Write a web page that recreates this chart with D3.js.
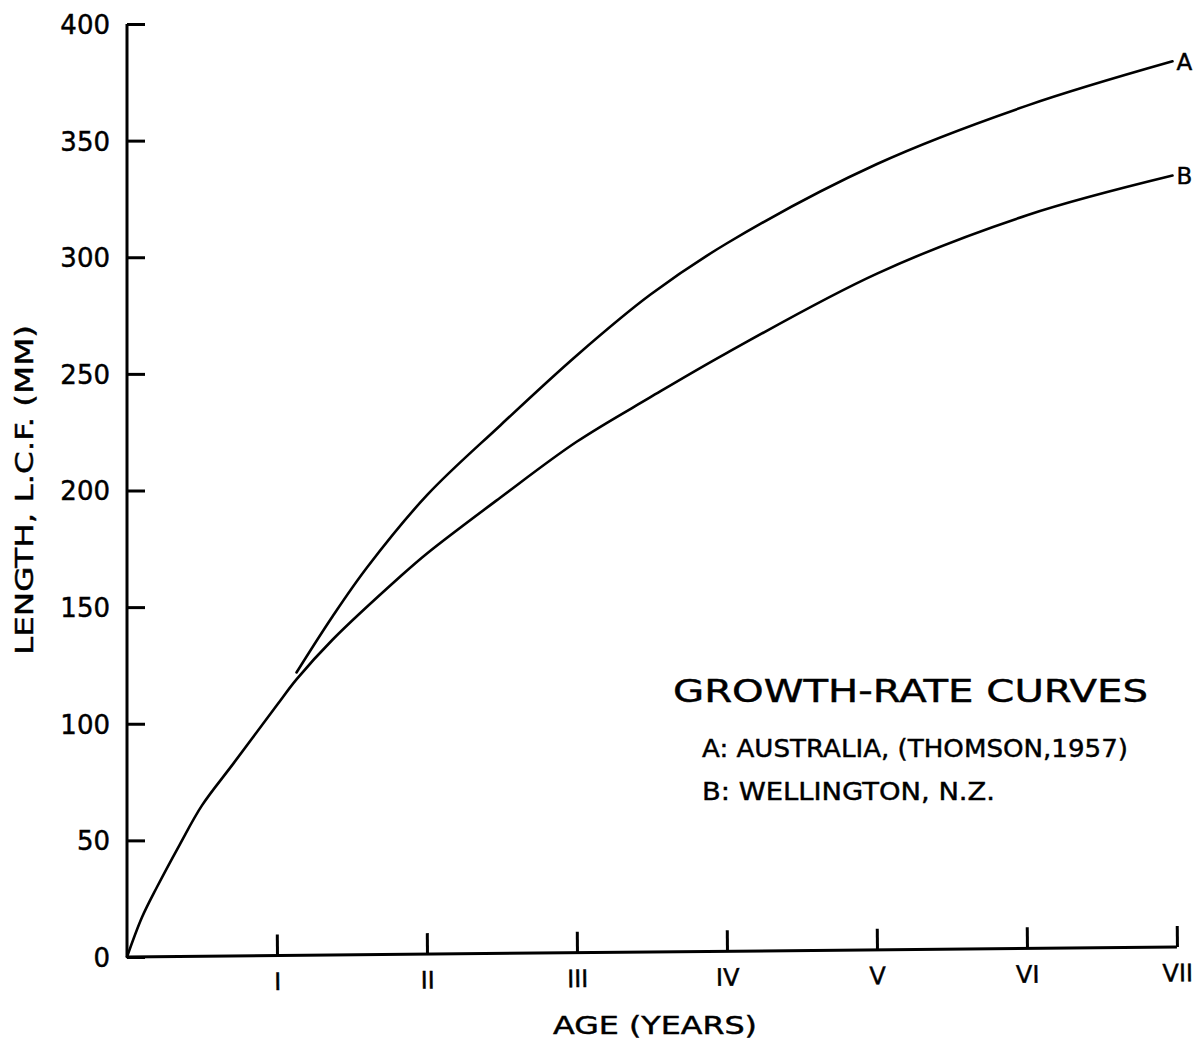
<!DOCTYPE html>
<html>
<head>
<meta charset="utf-8">
<script src="https://cdn.jsdelivr.net/npm/d3@7"></script>
<style>
  html, body { margin: 0; padding: 0; background: #fff; }
  svg { display: block; }
  text { font-family: "DejaVu Sans", "Liberation Sans", sans-serif; fill: #000; stroke: #000; stroke-width: 0.45px; }
</style>
</head>
<body>
<svg id="chart" width="1200" height="1046"></svg>
<script>
// Age in years and length (mm)
const ageA = [1.13, 1.37, 1.6, 2.0, 2.49, 3.0, 3.49, 4.0, 5.0, 6.0, 6.97];
const lenA = [122, 146, 167, 198, 228, 258, 284, 306, 340, 365, 384];

const ageB = [0, 0.1, 0.2, 0.35, 0.5, 0.71, 1.0, 1.13, 1.37, 1.82, 2.0, 2.49, 3.0, 3.49, 4.0, 5.0, 6.0, 6.97];
const lenB = [0, 17, 30, 48, 65, 83, 108, 119, 136, 163, 173, 197, 221, 240, 259, 293, 318, 335];

const yTicks = [0, 50, 100, 150, 200, 250, 300, 350, 400];
const xTicks = [1, 2, 3, 4, 5, 6, 7];
const xTickLabels = ["I", "II", "III", "IV", "V", "VI", "VII"];

const curveNames = ["A", "B"];
const legendTitle = "GROWTH-RATE  CURVES";
const legendLines = ["A: AUSTRALIA,  (THOMSON,1957)", "B: WELLINGTON,  N.Z."];
const xTitle = "AGE   (YEARS)";
const yTitle = "LENGTH,  L.C.F.  (MM)";

const svg = d3.select("#chart");

const x = d3.scaleLinear().domain([0, 7]).range([127, 1177]);
const y = d3.scaleLinear().domain([0, 400]).range([957, 24]);

// Y axis: ticks pointing inward, labels on the left
const yAxis = d3.axisLeft(y).tickValues(yTicks).tickSize(-18).tickPadding(34);
const gy = svg.append("g").attr("transform", `translate(${x(0)},0)`).call(yAxis);
gy.select(".domain").attr("d", `M0,${y(400)}V${y(0)}`).attr("stroke", "#000").attr("stroke-width", 3);
gy.selectAll(".tick line").attr("stroke", "#000").attr("stroke-width", 3);
gy.selectAll(".tick text").attr("font-size", 26).attr("dx", 17).attr("dy", "0.36em")
  .attr("font-family", "DejaVu Sans");

// X axis: inward ticks with Roman numeral labels, drawn slightly skewed as on the sheet
const xAxis = d3.axisBottom(x).tickValues(xTicks)
  .tickFormat((d, i) => xTickLabels[i]).tickSize(-21).tickPadding(32);
const gx = svg.append("g")
  .attr("transform", `translate(0,${y(0)}) rotate(-0.55 ${x(0)} 0)`)
  .call(xAxis);
gx.select(".domain").attr("d", `M${x(0)},0H${x(7)}`).attr("stroke", "#000").attr("stroke-width", 3);
gx.selectAll(".tick line").attr("stroke", "#000").attr("stroke-width", 3);
gx.selectAll(".tick text").attr("font-size", 24).attr("dy", "0.1em")
  .attr("font-family", "DejaVu Sans Condensed, DejaVu Sans");

// Growth curves
const line = d3.line()
  .x(d => x(d[0]))
  .y(d => y(d[1]))
  .curve(d3.curveCatmullRom.alpha(0.5));

const seriesA = ageA.map((a, i) => [a, lenA[i]]);
const seriesB = ageB.map((a, i) => [a, lenB[i]]);

[seriesA, seriesB].forEach((s, i) => {
  svg.append("path")
    .datum(s)
    .attr("d", line)
    .attr("fill", "none")
    .attr("stroke", "#000")
    .attr("stroke-width", 2.6)
    .attr("stroke-linecap", "round");
  const last = s[s.length - 1];
  svg.append("text")
    .attr("x", x(last[0]) + 4)
    .attr("y", y(last[1]))
    .attr("dy", "0.36em")
    .attr("font-size", 23)
    .text(curveNames[i]);
});

// Axis titles
svg.append("text")
  .attr("x", 655).attr("y", 1034)
  .attr("text-anchor", "middle")
  .attr("font-size", 24)
  .attr("textLength", 204).attr("lengthAdjust", "spacingAndGlyphs")
  .text(xTitle);

svg.append("text")
  .attr("transform", `translate(33,490) rotate(-90)`)
  .attr("text-anchor", "middle")
  .attr("font-size", 25)
  .attr("textLength", 330).attr("lengthAdjust", "spacingAndGlyphs")
  .text(yTitle);

// Legend block
svg.append("text")
  .attr("x", 673).attr("y", 702)
  .attr("font-size", 32)
  .attr("textLength", 475).attr("lengthAdjust", "spacingAndGlyphs")
  .text(legendTitle);

const legendWidths = [426, 293];
legendLines.forEach((t, i) => {
  svg.append("text")
    .attr("x", 702).attr("y", 757 + i * 43)
    .attr("font-size", 25)
    .attr("textLength", legendWidths[i]).attr("lengthAdjust", "spacingAndGlyphs")
    .text(t);
});
</script>
</body>
</html>
